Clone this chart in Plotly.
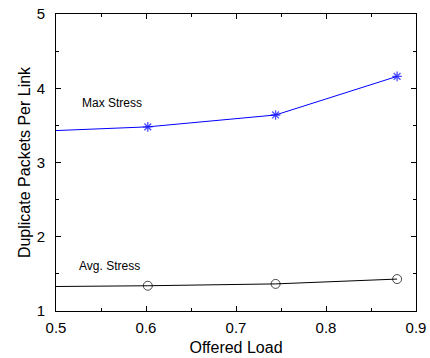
import plotly.graph_objects as go

load = [0.5, 0.602, 0.744, 0.879]
max_stress = [3.43, 3.48, 3.64, 4.16]
avg_stress = [1.33, 1.34, 1.365, 1.43]
marker_sizes = [0, 8, 8, 8]
circle_sizes = [0, 9, 9, 9]

fig = go.Figure()
fig.add_trace(go.Scatter(
    x=load, y=max_stress, mode="lines+markers",
    line=dict(color="#0000ff", width=1),
    marker=dict(symbol="asterisk-open", size=marker_sizes, color="#0000ff",
                line=dict(color="#0000ff", width=1.3)),
    showlegend=False, cliponaxis=True))
fig.add_trace(go.Scatter(
    x=load, y=avg_stress, mode="lines+markers",
    line=dict(color="black", width=1),
    marker=dict(symbol="circle-open", size=circle_sizes, color="black",
                line=dict(color="black", width=1)),
    showlegend=False, cliponaxis=True))

fig.add_annotation(x=0.527, y=3.80, text="Max Stress", showarrow=False,
                   xanchor="left", yanchor="middle",
                   font=dict(size=12, color="black", family="Liberation Sans"))
fig.add_annotation(x=0.523, y=1.61, text="Avg. Stress", showarrow=False,
                   xanchor="left", yanchor="middle",
                   font=dict(size=12, color="black", family="Liberation Sans"))

axis_common = dict(showline=True, linecolor="black", linewidth=1, mirror="ticks",
                   ticks="inside", ticklen=5, tickcolor="black", showgrid=False,
                   zeroline=False, automargin=False,
                   tickfont=dict(size=15, color="black"))
fig.update_xaxes(range=[0.5, 0.9], dtick=0.1, tick0=0.5, ticklabelstandoff=3,
                 title=dict(text="Offered Load", font=dict(size=16, color="black"), standoff=6),
                 minor=dict(ticks="inside", dtick=0.05, ticklen=3, tickcolor="black"),
                 **axis_common)
fig.update_yaxes(range=[1, 5], dtick=1, tick0=1, ticklabelstandoff=7,
                 title=dict(text="Duplicate Packets Per Link", font=dict(size=16, color="black"), standoff=2),
                 minor=dict(ticks="inside", dtick=0.5, ticklen=3, tickcolor="black"),
                 **axis_common)
fig.update_layout(width=430, height=358, margin=dict(l=56, r=14, t=14, b=47),
                  plot_bgcolor="white", paper_bgcolor="white",
                  font=dict(family="Liberation Sans", color="black"))
fig.write_html("out.html")
